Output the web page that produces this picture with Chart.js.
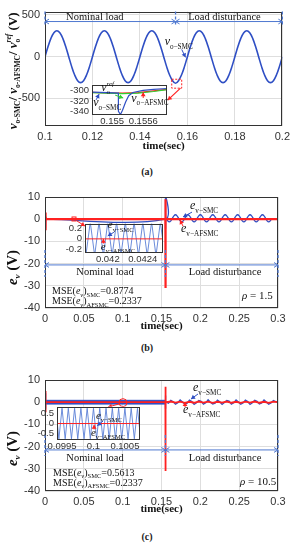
<!DOCTYPE html>
<html>
<head>
<meta charset="utf-8">
<script src="https://cdn.jsdelivr.net/npm/chart.js@4.4.1/dist/chart.umd.min.js"></script>
<style>
body{margin:0;background:#fff;width:294px;height:550px;position:relative;overflow:hidden}
canvas{position:absolute}
.cap{position:absolute;left:0;width:294px;text-align:center;font:bold 10px 'Liberation Serif',serif;color:#222}
</style>
</head>
<body>
<canvas id="cA" width="294" height="153" style="left:0;top:0"></canvas>
<canvas id="iA" width="116" height="52" style="left:56px;top:76px"></canvas>
<div class="cap" style="top:166px">(a)</div>
<canvas id="cB" width="294" height="153" style="left:0;top:180px"></canvas>
<canvas id="iB" width="108" height="52" style="left:60px;top:215px"></canvas>
<div class="cap" style="top:342px">(b)</div>
<canvas id="cC" width="294" height="151" style="left:0;top:365px"></canvas>
<canvas id="iC" width="115" height="54" style="left:30px;top:398px"></canvas>
<div class="cap" style="top:531px">(c)</div>
<script>
// ---------- (a) output voltage, 0.1 .. 0.2 s ----------
var tA = [0.1,0.10125,0.1025,0.10375,0.105,0.10625,0.1075,0.10875,
  0.11,0.11125,0.1125,0.11375,0.115,0.11625,0.1175,0.11875,
  0.12,0.12125,0.1225,0.12375,0.125,0.12625,0.1275,0.12875,
  0.13,0.13125,0.1325,0.13375,0.135,0.13625,0.1375,0.13875,
  0.14,0.14125,0.1425,0.14375,0.145,0.14625,0.1475,0.14875,
  0.15,0.15125,0.1525,0.15375,0.155,0.15625,0.1575,0.15875,
  0.16,0.16125,0.1625,0.16375,0.165,0.16625,0.1675,0.16875,
  0.17,0.17125,0.1725,0.17375,0.175,0.17625,0.1775,0.17875,
  0.18,0.18125,0.1825,0.18375,0.185,0.18625,0.1875,0.18875,
  0.19,0.19125,0.1925,0.19375,0.195,0.19625,0.1975,0.19875,
  0.2];
var vSmcA = [0,119,220,287,311,287,220,119,
  0,-119,-220,-287,-311,-287,-220,-119,
  0,119,220,287,311,287,220,119,
  0,-119,-220,-287,-311,-287,-220,-119,
  0,119,220,287,311,287,220,119,
  0,-119,-220,-287,-318,-287,-220,-119,
  0,119,220,287,311,287,220,119,
  0,-119,-220,-287,-311,-287,-220,-119,
  0,119,220,287,311,287,220,119,
  0,-119,-220,-287,-311,-287,-220,-119,
  0];
var xTicksA = [0.1,0.12,0.14,0.16,0.18,0.2];
var yTicksA = [-500,0,500];

// inset (a): zoom around the disturbance
var tInSmcA = [0.1546,0.1549,0.15512,0.155121,0.15516,0.1552,0.15526,0.15532,0.1554,0.1556,0.1558,0.1561];
var vInSmcA = [-303,-304,-305,-340,-346,-338,-322,-310,-304,-300,-298,-296];
var tInRefA = [0.1546,0.1549,0.1552,0.1555,0.1558,0.1561];
var vInRefA = [-304,-305,-306,-305,-302,-298];
var vInAfsA = [-303.5,-304.5,-305,-304,-301,-297.5];
var xTicksInA = [0.155,0.1556];
var yTicksInA = [-340,-320,-300];

// ---------- (b) voltage error, rho = 1.5 ----------
var tSmcB = [0,0.0005,0.001,0.0015,0.155,0.1551,0.1552,0.1554,
  0.156,0.158,0.16,0.162,0.164,0.166,0.168,0.17,0.172,0.174,0.176,0.178,
  0.18,0.182,0.184,0.186,0.188,0.19,0.192,0.194,0.196,0.198,0.2,0.202,
  0.204,0.206,0.208,0.21,0.212,0.214,0.216,0.218,0.22,0.222,0.224,0.226,
  0.228,0.23,0.232,0.234,0.236,0.238,0.24,0.242,0.244,0.246,0.248,0.25,
  0.252,0.254,0.256,0.258,0.26,0.262,0.264,0.266,0.268,0.27,0.272,0.274,
  0.276,0.278,0.28,0.282,0.284,0.286,0.288,0.29,0.292,0.294,0.296,0.298,0.3];
var vSmcB = [4,-4,1,0,0,10.5,-4,0,
  0.4,-0.73,-1.2,-0.73,0.4,1.53,2,1.53,0.4,-0.73,-1.2,-0.73,
  0.4,1.53,2,1.53,0.4,-0.73,-1.2,-0.73,0.4,1.53,2,1.53,
  0.4,-0.73,-1.2,-0.73,0.4,1.53,2,1.53,0.4,-0.73,-1.2,-0.73,
  0.4,1.53,2,1.53,0.4,-0.73,-1.2,-0.73,0.4,1.53,2,1.53,
  0.4,-0.73,-1.2,-0.73,0.4,1.53,2,1.53,0.4,-0.73,-1.2,-0.73,
  0.4,1.53,2,1.53,0.4,-0.73,-1.2,-0.73,0.4];
var tAfsB = [0,0.0005,0.001,0.0015,0.155,0.1551,0.1552,0.1554,0.3];
var vAfsB = [3,-5,1,0,0,9,-31,0,0];
var xTicksBC = [0,0.05,0.1,0.15,0.2,0.25,0.3];
var yTicksBC = [-40,-30,-20,-10,0,10];

// inset (b): switching ripple
var tZzB = [0.0417,0.04175,0.0418,0.04185,0.0419,0.04195,0.042,0.04205,0.0421,0.04215,
  0.0422,0.04225,0.0423,0.04235,0.0424,0.04245,0.0425,0.04255,0.0426,0.04265];
var vZzB = [0.32,-0.32,0.32,-0.32,0.32,-0.32,0.32,-0.32,0.32,-0.32,
  0.32,-0.32,0.32,-0.32,0.32,-0.32,0.32,-0.32,0.32,-0.32];
var tInAfsB = [0.0417,0.04265];
var vInAfsB = [0,0];
var xTicksInB = [0.042,0.0424];
var yTicksInB = [-0.2,0,0.2];

// ---------- (c) voltage error, rho = 10.5 ----------
var tEnvC = [0.001,0.155];
var vEnvHiC = [0.85,0.85];
var vEnvLoC = [-0.85,-0.85];
var tSmcC = [0,0.0005,0.001,0.155,0.1551,0.1552,0.1554,
  0.156,0.159,0.162,0.165,0.168,0.171,0.174,0.177,0.18,0.183,0.186,0.189,0.192,
  0.195,0.198,0.201,0.204,0.207,0.21,0.213,0.216,0.219,0.222,0.225,0.228,0.231,
  0.234,0.237,0.24,0.243,0.246,0.249,0.252,0.255,0.258,0.261,0.264,0.267,0.27,
  0.273,0.276,0.279,0.282,0.285,0.288,0.291,0.294,0.297,0.3];
var vSmcC = [4,-3,0,0,3,-3,0,
  0,-0.5,0.8,0.2,-0.9,-0.2,1.0,0.1,-0.8,-0.4,0.9,0.3,-1.0,
  -0.2,0.8,0.4,-0.9,-0.3,1.1,0.0,-0.8,-0.5,0.9,0.2,-1.0,
  -0.1,0.8,0.5,-0.9,-0.3,1.0,0.1,-0.9,-0.4,0.9,0.3,-1.0,
  -0.2,0.9,0.4,-0.8,-0.3,1.0,0.1,-0.9,-0.4,0.8,0.3,0];
var tAfsC = [0,0.0005,0.001,0.155,0.1551,0.1552,0.1554,
  0.156,0.162,0.168,0.174,0.18,0.186,0.192,0.198,0.204,0.21,0.216,0.222,0.228,
  0.234,0.24,0.246,0.252,0.258,0.264,0.27,0.276,0.282,0.288,0.294,0.3];
var vAfsC = [5,-4.5,0,0,7,-31,0,
  0,0.3,-0.2,0.25,-0.3,0.2,-0.25,0.3,-0.2,0.25,-0.3,0.2,-0.2,
  0.3,-0.25,0.2,-0.3,0.25,-0.2,0.3,-0.25,0.2,-0.3,0.25,0];

// inset (c): switching ripple
var tZzC = [0.0994,0.09945,0.0995,0.09955,0.0996,0.09965,0.0997,0.09975,0.0998,0.09985,
  0.0999,0.09995,0.1,0.10005,0.1001,0.10015,0.1002,0.10025,0.1003,0.10035,
  0.1004,0.10045,0.1005,0.10055,0.1006,0.10065,0.1007,0.10075];
var vZzC = [0.78,-0.78,0.78,-0.78,0.78,-0.78,0.78,-0.78,0.78,-0.78,
  0.78,-0.78,0.78,-0.78,0.78,-0.78,0.78,-0.78,0.78,-0.78,
  0.78,-0.78,0.78,-0.78,0.78,-0.78,0.78,-0.78];
var tInAfsC = [0.0994,0.10075];
var vInAfsC = [0,0];
var xTicksInC = [0.0995,0.1,0.1005];
var yTicksInC = [-0.5,0,0.5];

// ---------- styling ----------
var SERIF = "'Liberation Serif', 'Times New Roman', serif";
var SANS = "'Liberation Sans', Arial, sans-serif";
var BLUE = '#2f4fc4', LBLUE = '#4f78d0', RED = '#ff2121', GREEN = '#2fcf2f';
var GRID = '#dedede', TICK = '#333', FRAME = '#333';
function it(s){ return 'italic ' + s + 'px ' + SERIF; }
function rm(s){ return s + 'px ' + SERIF; }
function B(s){ return 'bold ' + s + 'px ' + SERIF; }
function BI(s){ return 'bold italic ' + s + 'px ' + SERIF; }
function sym(main, sub, s){ return [[main, it(s)], [sub, rm(s * 0.6), s * 0.3]]; }

function pts(ts, vs){ return ts.map(function(t, i){ return {x: t, y: vs[i]}; }); }
function line(data, color, w, extra){
  return Object.assign({data: data, borderColor: color, backgroundColor: color, borderWidth: w,
    pointRadius: 0, tension: 0, fill: false}, extra || {});
}

// text with sub/superscripts: parts = [text, font, dy, noAdvance]
function rich(ctx, parts, x, y, o){
  o = o || {};
  ctx.save();
  ctx.translate(x, y);
  if (o.rot) ctx.rotate(o.rot);
  ctx.fillStyle = o.color || '#111';
  ctx.textBaseline = 'alphabetic';
  var w = 0;
  parts.forEach(function(p){ ctx.font = p[1]; if (!p[3]) w += ctx.measureText(p[0]).width; });
  var cx = o.center ? -w / 2 : 0;
  parts.forEach(function(p){
    ctx.font = p[1];
    ctx.fillText(p[0], cx, p[2] || 0);
    if (!p[3]) cx += ctx.measureText(p[0]).width;
  });
  ctx.restore();
}

function arrowHead(ctx, x1, y1, x2, y2, fill){
  var a = Math.atan2(y2 - y1, x2 - x1), L = 4, W = 2.4;
  ctx.beginPath();
  ctx.moveTo(x2 - L * Math.cos(a) + W * Math.sin(a), y2 - L * Math.sin(a) - W * Math.cos(a));
  ctx.lineTo(x2, y2);
  ctx.lineTo(x2 - L * Math.cos(a) - W * Math.sin(a), y2 - L * Math.sin(a) + W * Math.cos(a));
  if (fill) { ctx.closePath(); ctx.fill(); } else ctx.stroke();
}

function drawNote(ctx, n, X, Y){
  ctx.save();
  ctx.strokeStyle = n.c || LBLUE; ctx.fillStyle = n.c || LBLUE; ctx.lineWidth = n.w || 1;
  if (n.k === 'text') {
    rich(ctx, n.parts, X(n.x), Y(n.y), {center: n.center, color: n.color});
  } else if (n.k === 'arrow') {
    var x1 = X(n.x1), y1 = Y(n.y1), x2 = X(n.x2), y2 = Y(n.y2);
    ctx.beginPath(); ctx.moveTo(x1, y1); ctx.lineTo(x2, y2); ctx.stroke();
    arrowHead(ctx, x1, y1, x2, y2, true);
  } else if (n.k === 'span') {
    var a = X(n.x1), b = X(n.x2), y = Y(n.y);
    ctx.beginPath(); ctx.moveTo(a, y); ctx.lineTo(b, y); ctx.stroke();
    arrowHead(ctx, b, y, a, y, false);
    arrowHead(ctx, a, y, b, y, false);
  } else if (n.k === 'dash') {
    ctx.setLineDash([3, 2]); ctx.lineWidth = 1.3;
    ctx.beginPath(); ctx.moveTo(X(n.x), Y(n.y1)); ctx.lineTo(X(n.x), Y(n.y2)); ctx.stroke();
  } else if (n.k === 'box') {
    if (n.dash) ctx.setLineDash([2, 1.5]);
    ctx.strokeRect(X(n.x1), Y(n.y1), X(n.x2) - X(n.x1), Y(n.y2) - Y(n.y1));
  } else if (n.k === 'ring') {
    ctx.beginPath();
    ctx.ellipse((X(n.x1) + X(n.x2)) / 2, (Y(n.y1) + Y(n.y2)) / 2, Math.abs(X(n.x2) - X(n.x1)) / 2, Math.abs(Y(n.y2) - Y(n.y1)) / 2, 0, 0, Math.PI * 2);
    ctx.stroke();
  }
  ctx.restore();
}

function decor(cfg){
  return {
    id: 'decor',
    beforeDraw: function(chart){
      if (!cfg.inset) return;
      var a = chart.chartArea, ctx = chart.ctx;
      ctx.save(); ctx.fillStyle = '#fff';
      ctx.fillRect(a.left, a.top, a.right - a.left, a.bottom - a.top);
      ctx.restore();
    },
    afterDatasetsDraw: function(chart){
      var ctx = chart.ctx, a = chart.chartArea;
      var X = function(v){ return chart.scales.x.getPixelForValue(v); };
      var Y = function(v){ return chart.scales.y.getPixelForValue(v); };
      ctx.save();
      ctx.strokeStyle = FRAME; ctx.lineWidth = 1;
      ctx.strokeRect(Math.round(a.left) + 0.5, Math.round(a.top) + 0.5, Math.round(a.right - a.left) - 1, Math.round(a.bottom - a.top) - 1);
      (cfg.notes || []).forEach(function(n){ drawNote(ctx, n, X, Y); });
      if (cfg.yTitle) rich(ctx, cfg.yTitle, cfg.yTitleX, (a.top + a.bottom) / 2 + cfg.yTitleDy, {rot: -Math.PI / 2, center: true});
      ctx.restore();
    }
  };
}

function makeChart(id, cfg){
  var fs = cfg.inset ? 9.5 : 11;
  return new Chart(document.getElementById(id), {
    type: 'line',
    data: {datasets: cfg.datasets},
    options: {
      responsive: false, animation: false, events: [],
      layout: {padding: {top: cfg.padTop, right: cfg.padRight, left: 0, bottom: 0}},
      plugins: {legend: {display: false}, tooltip: {enabled: false}},
      scales: {
        x: {
          type: 'linear', min: cfg.xMin, max: cfg.xMax,
          afterBuildTicks: function(s){ s.ticks = cfg.xTicks.map(function(v){ return {value: v}; }); },
          afterFit: function(s){ s.height = cfg.xH; },
          grid: {display: !cfg.inset, color: GRID, drawTicks: false},
          border: {display: false},
          ticks: {padding: cfg.inset ? 1 : 4, color: TICK, font: {family: SANS, size: fs}, maxRotation: 0, autoSkip: false,
            callback: function(v){ return String(v); }},
          title: {display: !cfg.inset, text: 'time(sec)', color: '#111', font: {family: SERIF, size: 11, weight: 'bold'}, padding: 0}
        },
        y: {
          min: cfg.yMin, max: cfg.yMax,
          afterBuildTicks: function(s){ s.ticks = cfg.yTicks.map(function(v){ return {value: v}; }); },
          afterFit: function(s){ s.width = cfg.yW; },
          grid: {display: !cfg.inset, color: GRID, drawTicks: false},
          border: {display: false},
          ticks: {padding: cfg.inset ? 3 : 5, color: TICK, font: {family: SANS, size: fs},
            callback: function(v){ return String(v); }}
        }
      }
    },
    plugins: [decor(cfg)]
  });
}

var nominal = [['Nominal load', rm(10.5)]];
var disturb = [['Load disturbance', rm(10.5)]];
function mse(sub, val){
  return [['MSE(', rm(10)], ['e', it(10)], ['v', it(6.5), 2.5], [')', rm(10)], [sub, rm(6.5), 2.5], ['=' + val, rm(10)]];
}

// ---- (a) ----
makeChart('cA', {
  xMin: 0.1, xMax: 0.2, yMin: -830, yMax: 540, xTicks: xTicksA, yTicks: yTicksA,
  padTop: 11, padRight: 11, xH: 27, yW: 45,
  datasets: [line(pts(tA, vSmcA), BLUE, 1.6, {tension: 0.35})],
  yTitle: [['v', BI(13)], ['o-SMC', B(7.5), 3], ['/ ', B(13)], ['v', BI(13)], ['o-AFSMC', B(7.5), 3], ['/ ', B(13)],
    ['v', BI(13)], ['o', B(7.5), 3, true], ['ref', BI(7.5), -6], [' (V)', B(13)]],
  yTitleX: 17, yTitleDy: 2,
  notes: [
    {k: 'dash', x: 0.1, y1: 540, y2: 361}, {k: 'dash', x: 0.155, y1: 540, y2: 361}, {k: 'dash', x: 0.2, y1: 540, y2: 361},
    {k: 'span', x1: 0.1, x2: 0.155, y: 421}, {k: 'span', x1: 0.155, x2: 0.2, y: 421},
    {k: 'text', x: 0.121, y: 445, parts: nominal, center: true},
    {k: 'text', x: 0.1756, y: 445, parts: disturb, center: true},
    {k: 'text', x: 0.1504, y: 135, parts: sym('v', 'o−SMC', 12)},
    {k: 'arrow', x1: 0.1576, y1: 87, x2: 0.1592, y2: -8, c: BLUE},
    {k: 'box', x1: 0.1534, y1: -270, x2: 0.1576, y2: -377, c: RED, dash: true},
    {k: 'arrow', x1: 0.1571, y1: -377, x2: 0.1517, y2: -520, c: RED, w: 1.2}
  ]
});
makeChart('iA', {
  inset: true, xMin: 0.15461, xMax: 0.15606, yMin: -347, yMax: -289, xTicks: xTicksInA, yTicks: yTicksInA,
  padTop: 7, padRight: 5, xH: 13, yW: 36,
  datasets: [
    line(pts(tInSmcA, vInSmcA), BLUE, 1.2),
    line(pts(tInRefA, vInRefA), GREEN, 1.2),
    line(pts(tInRefA, vInAfsA), RED, 1.2)
  ],
  notes: [
    {k: 'text', x: 0.154787, y: -301.7, parts: [['v', it(12)], ['o', rm(7), 3, true], ['ref', it(7), -5]]},
    {k: 'arrow', x1: 0.155058, y1: -309, x2: 0.155213, y2: -314.4, c: GREEN},
    {k: 'text', x: 0.154632, y: -330.7, parts: sym('v', 'o−SMC', 12)},
    {k: 'arrow', x1: 0.15469, y1: -318, x2: 0.154748, y2: -307, c: BLUE},
    {k: 'text', x: 0.155368, y: -321.6, parts: sym('v', 'o−AFSMC', 12)},
    {k: 'arrow', x1: 0.1556, y1: -314.4, x2: 0.1556, y2: -303.5, c: RED}
  ]
});

// ---- (b) ----
makeChart('cB', {
  xMin: 0, xMax: 0.3, yMin: -40, yMax: 10, xTicks: xTicksBC, yTicks: yTicksBC,
  padTop: 17, padRight: 16, xH: 25, yW: 45,
  datasets: [
    line(pts(tAfsB, vAfsB), RED, 2.2),
    line(pts(tSmcB, vSmcB), BLUE, 1.3, {tension: 0.35})
  ],
  yTitle: [['e', BI(15)], ['v', BI(9), 3], [' (V)', B(15)]],
  yTitleX: 17, yTitleDy: 15,
  notes: [
    {k: 'dash', x: 0, y1: -13.9, y2: -26}, {k: 'dash', x: 0.155, y1: -13.9, y2: -26}, {k: 'dash', x: 0.3, y1: -13.9, y2: -26},
    {k: 'span', x1: 0, x2: 0.155, y: -20.6}, {k: 'span', x1: 0.155, x2: 0.3, y: -20.6},
    {k: 'text', x: 0.0773, y: -25.1, parts: nominal, center: true},
    {k: 'text', x: 0.2318, y: -25.1, parts: disturb, center: true},
    {k: 'text', x: 0.1867, y: 4.6, parts: sym('e', 'v−SMC', 12)},
    {k: 'arrow', x1: 0.1893, y1: 3.2, x2: 0.1777, y2: 1.0, c: BLUE},
    {k: 'text', x: 0.1751, y: -5.8, parts: sym('e', 'v−AFSMC', 12)},
    {k: 'arrow', x1: 0.1777, y1: -3.1, x2: 0.1738, y2: -0.4, c: RED},
    {k: 'box', x1: 0.0348, y1: 1, x2: 0.0399, y2: -0.8, c: RED},
    {k: 'arrow', x1: 0.0412, y1: -0.8, x2: 0.0515, y2: -3.1, c: RED},
    {k: 'text', x: 0.009, y: -33.7, parts: mse('SMC', '0.8774')},
    {k: 'text', x: 0.009, y: -38.2, parts: mse('AFSMC', '0.2337')},
    {k: 'text', x: 0.2537, y: -36, parts: [['ρ', it(11)], [' = 1.5', rm(11)]]}
  ]
});
makeChart('iB', {
  inset: true, xMin: 0.04174, xMax: 0.04263, yMin: -0.27, yMax: 0.29, xTicks: xTicksInB, yTicks: yTicksInB,
  padTop: 7, padRight: 5, xH: 14, yW: 25,
  datasets: [
    line(pts(tInAfsB, vInAfsB), RED, 1),
    line(pts(tZzB, vZzB), '#5a7fd6', 0.9)
  ],
  notes: [
    {k: 'text', x: 0.042, y: 0.2, parts: sym('e', 'v−SMC', 11)},
    {k: 'arrow', x1: 0.04207, y1: 0.127, x2: 0.042, y2: 0.055, c: BLUE},
    {k: 'text', x: 0.04192, y: -0.216, parts: sym('e', 'v−AFSMC', 11)},
    {k: 'arrow', x1: 0.04195, y1: -0.089, x2: 0.04195, y2: 0, c: RED}
  ]
});

// ---- (c) ----
makeChart('cC', {
  xMin: 0, xMax: 0.3, yMin: -40, yMax: 10, xTicks: xTicksBC, yTicks: yTicksBC,
  padTop: 15, padRight: 16, xH: 25, yW: 45,
  datasets: [
    line(pts(tAfsC, vAfsC), RED, 1.8),
    line(pts(tSmcC, vSmcC), BLUE, 1.3),
    line(pts(tEnvC, vEnvHiC), BLUE, 1),
    line(pts(tEnvC, vEnvLoC), BLUE, 1, {fill: '-1', backgroundColor: BLUE})
  ],
  yTitle: [['e', BI(15)], ['v', BI(9), 3], [' (V)', B(15)]],
  yTitleX: 17, yTitleDy: 13,
  notes: [
    {k: 'dash', x: 0, y1: -14.8, y2: -24.2}, {k: 'dash', x: 0.155, y1: -14.8, y2: -24.2}, {k: 'dash', x: 0.3, y1: -14.8, y2: -24.2},
    {k: 'span', x1: 0, x2: 0.155, y: -21.5}, {k: 'span', x1: 0.155, x2: 0.3, y: -21.5},
    {k: 'text', x: 0.0644, y: -26.5, parts: nominal, center: true},
    {k: 'text', x: 0.2318, y: -26.5, parts: disturb, center: true},
    {k: 'text', x: 0.1906, y: 5.0, parts: sym('e', 'v−SMC', 12)},
    {k: 'arrow', x1: 0.197, y1: 3.7, x2: 0.188, y2: 1.4, c: BLUE},
    {k: 'text', x: 0.1777, y: -4.9, parts: sym('e', 'v−AFSMC', 12)},
    {k: 'arrow', x1: 0.1803, y1: -2.2, x2: 0.1803, y2: 0.1, c: RED},
    {k: 'ring', x1: 0.0953, x2: 0.1055, y1: 1.6, y2: -2.0, c: RED},
    {k: 'arrow', x1: 0.0953, y1: -0.8, x2: 0.0811, y2: -2.2, c: RED},
    {k: 'text', x: 0.0103, y: -33.2, parts: mse('SMC', '0.5613')},
    {k: 'text', x: 0.0103, y: -37.7, parts: mse('AFSMC', '0.2337')},
    {k: 'text', x: 0.2511, y: -37.3, parts: [['ρ', it(11)], [' = 10.5', rm(11)]]}
  ]
});
makeChart('iC', {
  inset: true, xMin: 0.09942, xMax: 0.10074, yMin: -0.84, yMax: 0.86, xTicks: xTicksInC, yTicks: yTicksInC,
  padTop: 7, padRight: 5, xH: 12, yW: 27,
  datasets: [
    line(pts(tInAfsC, vInAfsC), RED, 1),
    line(pts(tZzC, vZzC), '#5a7fd6', 0.9)
  ],
  notes: [
    {k: 'text', x: 0.10004, y: 0.226, parts: sym('e', 'v−SMC', 11)},
    {k: 'arrow', x1: 0.10015, y1: 0.13, x2: 0.10006, y2: -0.11, c: BLUE},
    {k: 'text', x: 0.09996, y: -0.64, parts: sym('e', 'v−AFSMC', 11)},
    {k: 'arrow', x1: 0.10001, y1: -0.30, x2: 0.10001, y2: -0.06, c: RED}
  ]
});
</script>
</body>
</html>
